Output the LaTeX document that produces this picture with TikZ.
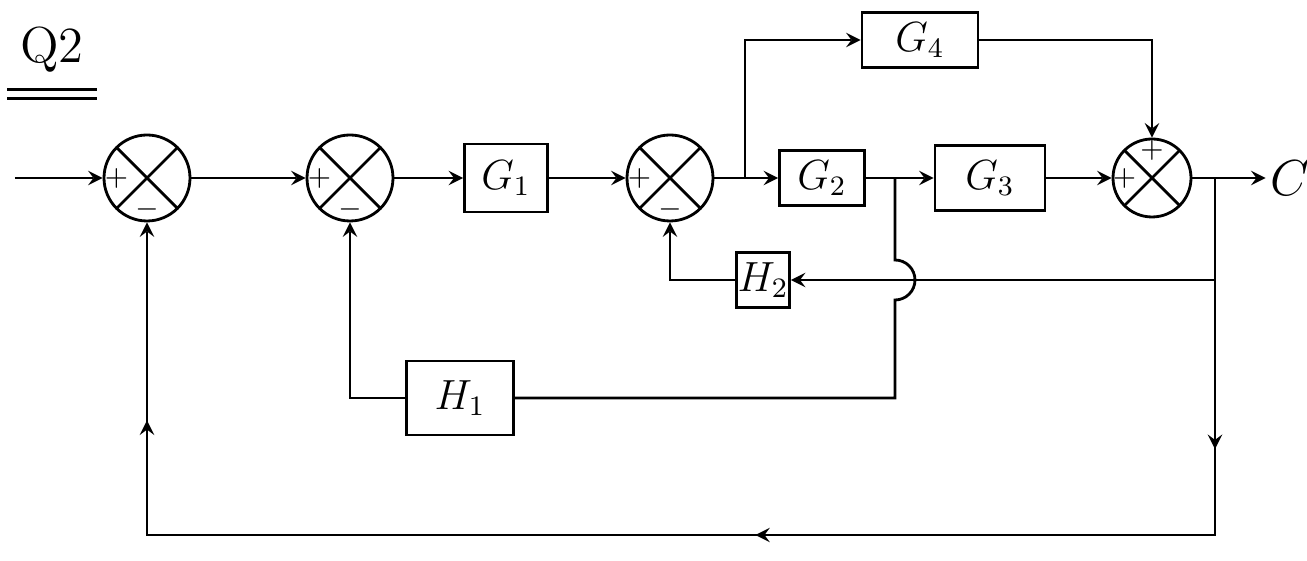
\documentclass[tikz,border=0pt]{standalone}
\usetikzlibrary{positioning,decorations.markings}
\tikzset{
  blk/.style={draw, inner sep=0pt, font=\large},
  sumj/.style={draw, circle, minimum size=0.86cm, inner sep=0pt,
    path picture={\draw (path picture bounding box.north west) -- (path picture bounding box.south east)
      (path picture bounding box.north east) -- (path picture bounding box.south west);}},
  sgn/.style={font=\footnotesize, inner sep=0pt},
  fbpath/.style={postaction={decorate}, decoration={markings,
    mark=at position 0.156 with {\arrow{stealth}},
    mark=at position 0.47 with {\arrow{stealth}},
    mark=at position 0.886 with {\arrow{stealth}}}},
}
\begin{document}
\begin{tikzpicture}[line width=0.8pt, >=stealth]
  \useasboundingbox (0,0) rectangle (13.07,-5.61);
  % title
  \node[font=\Large] (qn) at (0.52,-0.50) {Q2};
  \draw ([yshift=-1pt]qn.south west) -- ([yshift=-1pt]qn.south east);
  \draw ([yshift=-3.5pt]qn.south west) -- ([yshift=-3.5pt]qn.south east);
  % summing points
  \node[sumj] (s1) at (1.47,-1.78) {};
  \node[sumj] (s2) at (3.50,-1.78) {};
  \node[sumj] (s3) at (6.70,-1.78) {};
  \node[sumj, minimum size=0.78cm] (s4) at (11.52,-1.78) {};
  \node[sgn] (s1p) at ([xshift=0.14cm]s1.west) {$+$};
  \node[sgn] (s1m) at ([yshift=0.13cm]s1.south) {$-$};
  \node[sgn] (s2p) at ([xshift=0.14cm]s2.west) {$+$};
  \node[sgn] (s2m) at ([yshift=0.13cm]s2.south) {$-$};
  \node[sgn] (s3p) at ([xshift=0.14cm]s3.west) {$+$};
  \node[sgn] (s3m) at ([yshift=0.13cm]s3.south) {$-$};
  \node[sgn] (s4p) at ([xshift=0.13cm]s4.west) {$+$};
  \node[sgn] (s4q) at ([yshift=-0.13cm]s4.north) {$+$};
  % blocks
  \node[blk, minimum width=0.83cm, minimum height=0.68cm] (g1) at (5.06,-1.78) {$G_1$};
  \node[blk, minimum width=0.85cm, minimum height=0.55cm] (g2) at (8.22,-1.78) {$G_2$};
  \node[blk, minimum width=1.10cm, minimum height=0.65cm] (g3) at (9.90,-1.78) {$G_3$};
  \node[blk, minimum width=1.16cm, minimum height=0.55cm] (g4) at (9.20,-0.40) {$G_4$};
  \node[blk, minimum width=0.53cm, minimum height=0.55cm] (h2) at (7.63,-2.80) {$H_2$};
  \node[blk, minimum width=1.07cm, minimum height=0.74cm] (h1) at (4.60,-3.98) {$H_1$};
  \node[font=\Large, inner sep=1pt] (cout) at (12.90,-1.78) {$C$};
  % branch points
  \coordinate (rin) at (0.15,-1.78);
  \coordinate (b1) at (7.45,-1.78);
  \coordinate (b2) at (8.95,-1.78);
  \coordinate (b3) at (12.15,-1.78);
  \coordinate (t2) at (12.15,-2.80);
  \coordinate (cr) at (12.15,-5.35);
  \coordinate (cl) at (1.47,-5.35);
  % forward path
  \draw[->] (rin) -- (s1);
  \draw[->] (s1) -- (s2);
  \draw[->] (s2) -- (g1);
  \draw[->] (g1) -- (s3);
  \draw (s3) -- (b1);
  \draw[->] (b1) -- (g2);
  \draw[->] (b1) |- (g4);
  \draw (g2) -- (b2);
  \draw[->] (b2) -- (g3);
  \draw[->] (g3) -- (s4);
  \draw[->] (g4) -| (s4);
  \draw[->] (s4) -- (cout);
  % feedback paths
  \draw (b2) -- ++(0,-0.82) arc[start angle=90, end angle=-90, radius=0.2] |- (h1);
  \draw[->] (h1) -| (s2);
  \draw[->] (t2) -- (h2);
  \draw[->] (h2) -| (s3);
  \draw[->, fbpath] (b3) -- (cr) -- (cl) -- (s1);
\end{tikzpicture}
\end{document}
